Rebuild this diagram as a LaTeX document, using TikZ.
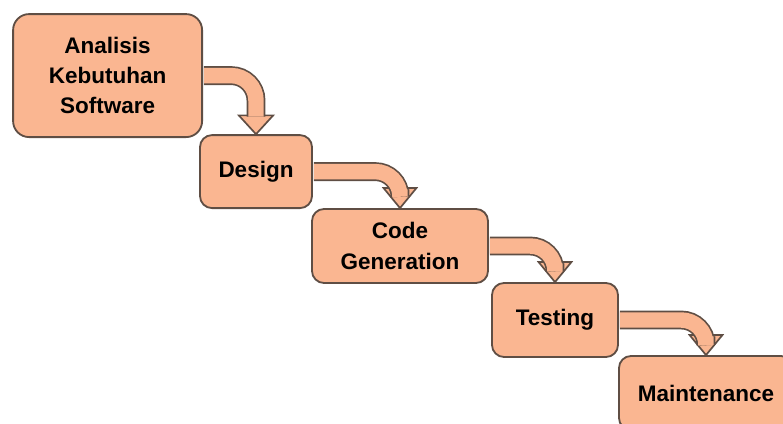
\documentclass[tikz,border=0pt]{standalone}
\usepackage{fontspec}
\setmainfont{Liberation Sans}
\usepackage{tikz}
\usetikzlibrary{calc}

\definecolor{peach}{RGB}{250,182,145}
\definecolor{rim}{RGB}{95,78,68}

\begin{document}
\begin{tikzpicture}[thick]
    \tikzstyle{phase}=[draw=rim, line width=1.3pt, fill=peach, rounded corners=0.3cm,
        align=center, font=\fontsize{16}{21.5}\selectfont\bfseries, minimum height=1.85cm]
    \tikzstyle{shaft}=[draw=rim, line width=1.2pt, double=peach, double distance=11pt,
        rounded corners=0.62cm, shorten <=0.6pt]
    \tikzstyle{head}=[draw=rim, line width=1.2pt, fill=peach, line join=miter]

    \useasboundingbox (0,0) rectangle (19.575cm,10.6cm);

    \node[phase, rounded corners=0.4cm, minimum width=4.725cm, minimum height=3.075cm]
        (analisis) at (2.69cm, 8.71cm) {Analisis\\Kebutuhan\\Software};
    \node[phase, minimum width=2.8cm, minimum height=1.825cm] (design) at (6.4cm, 6.31cm) {Design};
    \node[phase, minimum width=4.4cm] (code) at (10cm, 4.45cm) {Code\\Generation};
    \node[phase, minimum width=3.15cm] (testing) at (13.875cm, 2.6cm) {Testing};
    \node[phase, minimum width=4.35cm] (maint) at (17.65cm, 0.775cm) {Maintenance};

    % bent arrows between the phases
    \draw[head] (design.north) -- ++(-0.43cm,0.47cm) -- ++(0.86cm,0) -- cycle;
    \draw[shaft] (analisis.east) -| ($(design.north)+(0,0.44cm)$);

    \draw[head] (code.north) -- ++(-0.41cm,0.5cm) -- ++(0.82cm,0) -- cycle;
    \draw[shaft] (design.east) -| ($(code.north)+(0,0.47cm)$);

    \draw[head] (testing.north) -- ++(-0.41cm,0.5cm) -- ++(0.82cm,0) -- cycle;
    \draw[shaft] (code.east) -| ($(testing.north)+(0,0.47cm)$);

    \draw[head] (maint.north) -- ++(-0.41cm,0.5cm) -- ++(0.82cm,0) -- cycle;
    \draw[shaft] (testing.east) -| ($(maint.north)+(0,0.47cm)$);
\end{tikzpicture}
\end{document}
